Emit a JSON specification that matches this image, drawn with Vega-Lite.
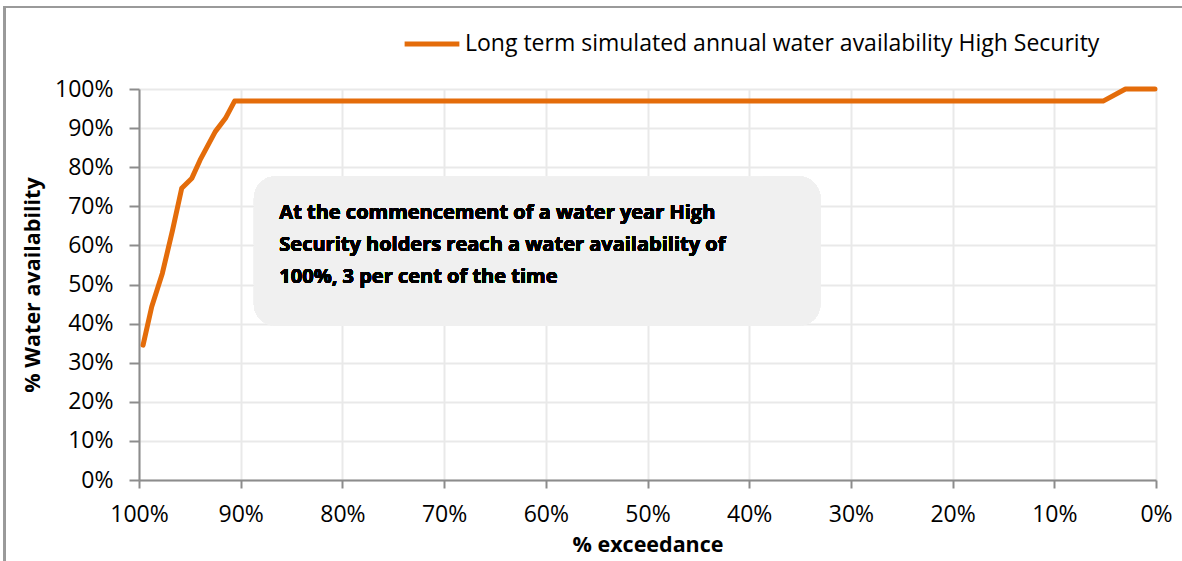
{
  "$schema": "https://vega.github.io/schema/vega-lite/v6.json",
  "autosize": "none",
  "width": 1017,
  "height": 391,
  "padding": {"left": 139, "top": 89, "right": 26, "bottom": 81},
  "background": "white",
  "config": {
    "font": "Open Sans",
    "view": {"stroke": null},
    "axis": {
      "grid": true,
      "labelFont": "Open Sans",
      "labelFontSize": 23,
      "labelColor": "#000000",
      "labelOverlap": false,
      "titleFont": "Open Sans",
      "titleFontSize": 21.5,
      "titleFontWeight": "bold",
      "titleColor": "#000000",
      "domainColor": "#8c8c8c",
      "domainWidth": 2,
      "tickColor": "#8c8c8c",
      "tickWidth": 2,
      "gridColor": "#e9e9e9",
      "gridWidth": 2
    }
  },
  "data": {
    "values": [
      {"exceedance": 0.996, "availability": 0.345, "series": "Long term simulated annual water availability High Security"},
      {"exceedance": 0.9875, "availability": 0.443, "series": "Long term simulated annual water availability High Security"},
      {"exceedance": 0.977, "availability": 0.529, "series": "Long term simulated annual water availability High Security"},
      {"exceedance": 0.967, "availability": 0.639, "series": "Long term simulated annual water availability High Security"},
      {"exceedance": 0.958, "availability": 0.746, "series": "Long term simulated annual water availability High Security"},
      {"exceedance": 0.948, "availability": 0.772, "series": "Long term simulated annual water availability High Security"},
      {"exceedance": 0.94, "availability": 0.818, "series": "Long term simulated annual water availability High Security"},
      {"exceedance": 0.925, "availability": 0.891, "series": "Long term simulated annual water availability High Security"},
      {"exceedance": 0.915, "availability": 0.925, "series": "Long term simulated annual water availability High Security"},
      {"exceedance": 0.906, "availability": 0.969, "series": "Long term simulated annual water availability High Security"},
      {"exceedance": 0.052, "availability": 0.969, "series": "Long term simulated annual water availability High Security"},
      {"exceedance": 0.03, "availability": 1.0, "series": "Long term simulated annual water availability High Security"},
      {"exceedance": 0.001, "availability": 1.0, "series": "Long term simulated annual water availability High Security"}
    ]
  },
  "layer": [
    {
      "mark": {"type": "rect", "fill": null, "filled": false, "stroke": "#9a9a9a", "strokeWidth": 2, "clip": false},
      "encoding": {
        "x": {
          "datum": 1.132,
          "type": "quantitative",
          "scale": {"domain": [1, 0], "nice": false, "zero": false},
          "axis": {
            "title": "% exceedance",
            "format": ".0%",
            "grid": true,
            "values": [1, 0.9, 0.8, 0.7, 0.6, 0.5, 0.4, 0.3, 0.2, 0.1, 0],
            "tickCount": 20,
            "tickSize": 8,
            "labelPadding": 15,
            "titlePadding": 8,
            "labelFlush": false
          }
        },
        "x2": {"datum": -0.2},
        "y": {
          "datum": 1.21,
          "type": "quantitative",
          "scale": {"domain": [0, 1], "nice": false, "zero": false},
          "axis": {
            "title": "% Water availability",
            "format": ".0%",
            "grid": true,
            "values": [0, 0.1, 0.2, 0.3, 0.4, 0.5, 0.6, 0.7, 0.8, 0.9, 1],
            "tickCount": 20,
            "labelOverlap": false,
            "tickSize": 10,
            "labelPadding": 16,
            "titlePadding": 10,
            "labelFlush": false
          }
        },
        "y2": {"datum": -0.5}
      }
    },
    {
      "mark": {"type": "rect", "fill": "#f0f0f0", "cornerRadius": 22},
      "encoding": {
        "x": {"datum": 0.887, "type": "quantitative"},
        "x2": {"datum": 0.330},
        "y": {"datum": 0.394, "type": "quantitative"},
        "y2": {"datum": 0.777}
      }
    },
    {
      "mark": {
        "type": "text",
        "align": "left",
        "baseline": "middle",
        "font": "Open Sans",
        "fontSize": 20,
        "fontWeight": "bold",
        "lineHeight": 32,
        "color": "#000000",
        "text": ["At the commencement of a water year High", "Security holders reach a water availability  of", "100%, 3 per cent of the time"]
      },
      "encoding": {
        "x": {"datum": 0.862, "type": "quantitative"},
        "y": {"datum": 0.683, "type": "quantitative"}
      }
    },
    {
      "mark": {"type": "line", "strokeWidth": 5, "strokeCap": "round", "strokeJoin": "round"},
      "encoding": {
        "x": {"field": "exceedance", "type": "quantitative"},
        "y": {"field": "availability", "type": "quantitative"},
        "color": {
          "field": "series",
          "type": "nominal",
          "scale": {"range": ["#E46C0A"]},
          "legend": {
            "title": null,
            "orient": "none",
            "legendX": 263,
            "legendY": -75,
            "padding": 0,
            "symbolType": "stroke",
            "symbolSize": 3000,
            "symbolStrokeWidth": 5,
            "labelFont": "Open Sans",
            "labelFontSize": 23,
            "labelColor": "#000000",
            "labelOffset": 3,
            "labelLimit": 900
          }
        }
      }
    }
  ]
}
